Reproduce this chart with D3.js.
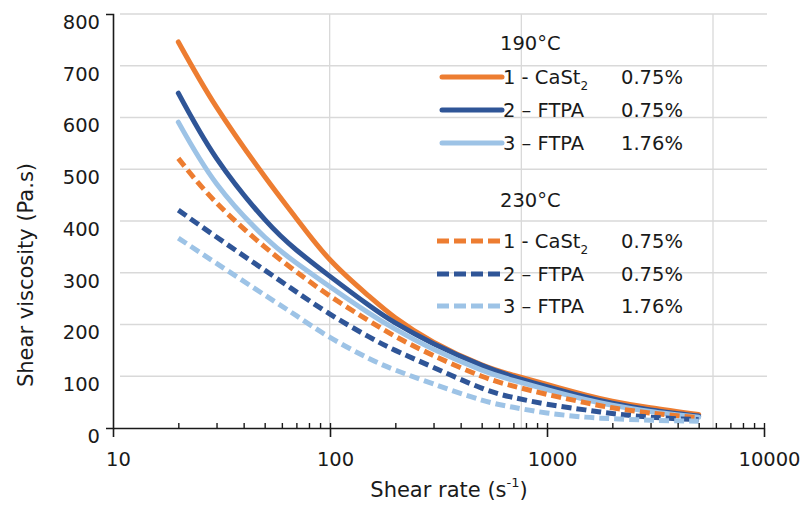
<!DOCTYPE html>
<html>
<head>
<meta charset="utf-8">
<script src="https://cdn.jsdelivr.net/npm/d3@7"></script>
<style>
  body { margin: 0; background: #fff; }
  svg { display: block; font-family: "DejaVu Sans", sans-serif; }
</style>
</head>
<body>
<svg id="chart" width="811" height="506"></svg>
<script>
// shear rate (1/s)
var shearRate = [20, 30, 50, 70, 100, 150, 200, 300, 500, 700, 1000, 1500, 2000, 3000, 5000];

// viscosity (Pa.s) at 190 C
var caSt190 = [746, 620, 486, 405, 325, 256, 213, 166, 122, 102, 84, 64, 52, 39, 26];
var ftpa075_190 = [647, 521, 403, 344, 293, 238, 203, 163, 121, 99, 80, 60, 48, 35, 23];
var ftpa176_190 = [591, 472, 369, 319, 273, 223, 191, 152, 112, 92, 74, 55, 44, 32, 21];

// viscosity (Pa.s) at 230 C
var caSt230 = [521, 435, 350, 302, 255, 208, 177, 140, 100, 81, 65, 49, 39, 29, 20];
var ftpa075_230 = [421, 369, 305, 263, 220, 177, 150, 117, 77, 59, 46, 35, 28, 21, 16];
var ftpa176_230 = [367, 318, 257, 217, 175, 135, 112, 85, 54, 40, 29, 21, 18, 15, 13];

var xTicks = [10, 100, 1000, 10000];
var yTicks = [0, 100, 200, 300, 400, 500, 600, 700, 800];
var tempLabels = ["190\u00B0C", "230\u00B0C"];
var sampleNames = ["1 - CaSt", "2 \u2013 FTPA", "3 \u2013 FTPA"];
var sampleConc = ["0.75%", "0.75%", "1.76%"];

var colors = ["#ED7D31", "#2F5597", "#9DC3E6"];

var series = [
    { values: caSt190, color: colors[0], dashed: false },
    { values: ftpa075_190, color: colors[1], dashed: false },
    { values: ftpa176_190, color: colors[2], dashed: false },
    { values: caSt230, color: colors[0], dashed: true },
    { values: ftpa075_230, color: colors[1], dashed: true },
    { values: ftpa176_230, color: colors[2], dashed: true }
];

var svg = d3.select("#chart");

var x = d3.scaleLog().domain([10, 10000]).range([113, 764]);
var y = d3.scaleLinear().domain([0, 800]).range([428, 14]);
// vertical grid in the source is drawn slightly off the axis decades
var gridX = d3.scaleLog().domain([10, 10000]).range([138, 713]);

// grid
svg.append("g").selectAll("line")
    .data(yTicks.slice(1))
    .enter().append("line")
    .attr("x1", 120).attr("x2", 767)
    .attr("y1", d => y(d)).attr("y2", d => y(d))
    .attr("stroke", "#d9d9d9").attr("stroke-width", 1.3);

svg.append("g").selectAll("line")
    .data([100, 1000, 10000])
    .enter().append("line")
    .attr("x1", d => gridX(d)).attr("x2", d => gridX(d))
    .attr("y1", y(800)).attr("y2", y(0))
    .attr("stroke", "#d9d9d9").attr("stroke-width", 1.3);

// curves
var line = d3.line()
    .x((d, i) => x(shearRate[i]))
    .y(d => y(d))
    .curve(d3.curveNatural);

svg.append("g").selectAll("path")
    .data(series)
    .enter().append("path")
    .attr("d", d => line(d.values))
    .attr("fill", "none")
    .attr("stroke", d => d.color)
    .attr("stroke-width", 5)
    .attr("stroke-linecap", d => d.dashed ? "butt" : "round")
    .attr("stroke-dasharray", d => d.dashed ? "10,5" : null);

// y axis
var yAxis = svg.append("g")
    .attr("transform", "translate(113,0)")
    .call(d3.axisLeft(y).tickValues(yTicks).tickSizeInner(0).tickSizeOuter(7).tickPadding(13));
yAxis.select(".domain").attr("stroke", "#1a1a1a").attr("stroke-width", 1.6);
yAxis.selectAll("text")
    .attr("y", 8)
    .attr("font-size", 19.5)
    .attr("font-family", "DejaVu Sans, sans-serif")
    .attr("fill", "#1a1a1a");

// x axis
var xAxis = svg.append("g")
    .attr("transform", "translate(0,428)")
    .call(d3.axisBottom(x).tickValues(xTicks).tickSize(9).tickSizeOuter(0).tickPadding(15).tickFormat(d3.format("d")));
xAxis.select(".domain").attr("stroke", "#1a1a1a").attr("stroke-width", 1.6);
xAxis.selectAll(".tick line").attr("stroke", "#1a1a1a").attr("stroke-width", 1.6);
xAxis.selectAll("text")
    .attr("x", 5)
    .attr("font-size", 19.5)
    .attr("font-family", "DejaVu Sans, sans-serif")
    .attr("fill", "#1a1a1a");

var minor = [];
[10, 100, 1000].forEach(function (dec) {
    for (var k = 2; k <= 10; k++) minor.push(dec * k);
});
var minorAxis = svg.append("g")
    .attr("transform", "translate(0,428)")
    .call(d3.axisBottom(x).tickValues(minor).tickSize(-5).tickFormat(""));
minorAxis.select(".domain").remove();
minorAxis.selectAll(".tick line").attr("stroke", "#1a1a1a").attr("stroke-width", 1.4);

// axis titles
var xTitle = svg.append("text")
    .attr("x", 449).attr("y", 497)
    .attr("text-anchor", "middle")
    .attr("font-size", 21)
    .attr("fill", "#1a1a1a")
    .text("Shear rate (s");
xTitle.append("tspan").attr("font-size", 13).attr("dy", -10).text("-1");
xTitle.append("tspan").attr("dy", 10).text(")");

svg.append("text")
    .attr("transform", "translate(33,275) rotate(-90)")
    .attr("text-anchor", "middle")
    .attr("font-size", 21)
    .attr("fill", "#1a1a1a")
    .text("Shear viscosity (Pa.s)");

// legend
var legend = svg.append("g").attr("font-size", 19.5).attr("fill", "#1a1a1a");
var headerY = [50, 207];
var rowY = [[77, 110, 143], [241, 274, 306]];

tempLabels.forEach(function (t, ti) {
    legend.append("text").attr("x", 500).attr("y", headerY[ti]).text(t);
    sampleNames.forEach(function (name, si) {
        var s = series[ti * 3 + si];
        var ry = rowY[ti][si];
        legend.append("line")
            .attr("x1", ti ? 437 : 442).attr("x2", 502)
            .attr("y1", ry).attr("y2", ry)
            .attr("stroke", s.color)
            .attr("stroke-width", 5)
            .attr("stroke-linecap", s.dashed ? "butt" : "round")
            .attr("stroke-dasharray", s.dashed ? "12,5" : null);
        var label = legend.append("text").attr("x", 503).attr("y", ry + 7).text(name);
        if (si === 0) {
            label.append("tspan").attr("font-size", 12).attr("dy", 6).text("2");
        }
        legend.append("text").attr("x", 621).attr("y", ry + 7).text(sampleConc[si]);
    });
});
</script>
</body>
</html>
